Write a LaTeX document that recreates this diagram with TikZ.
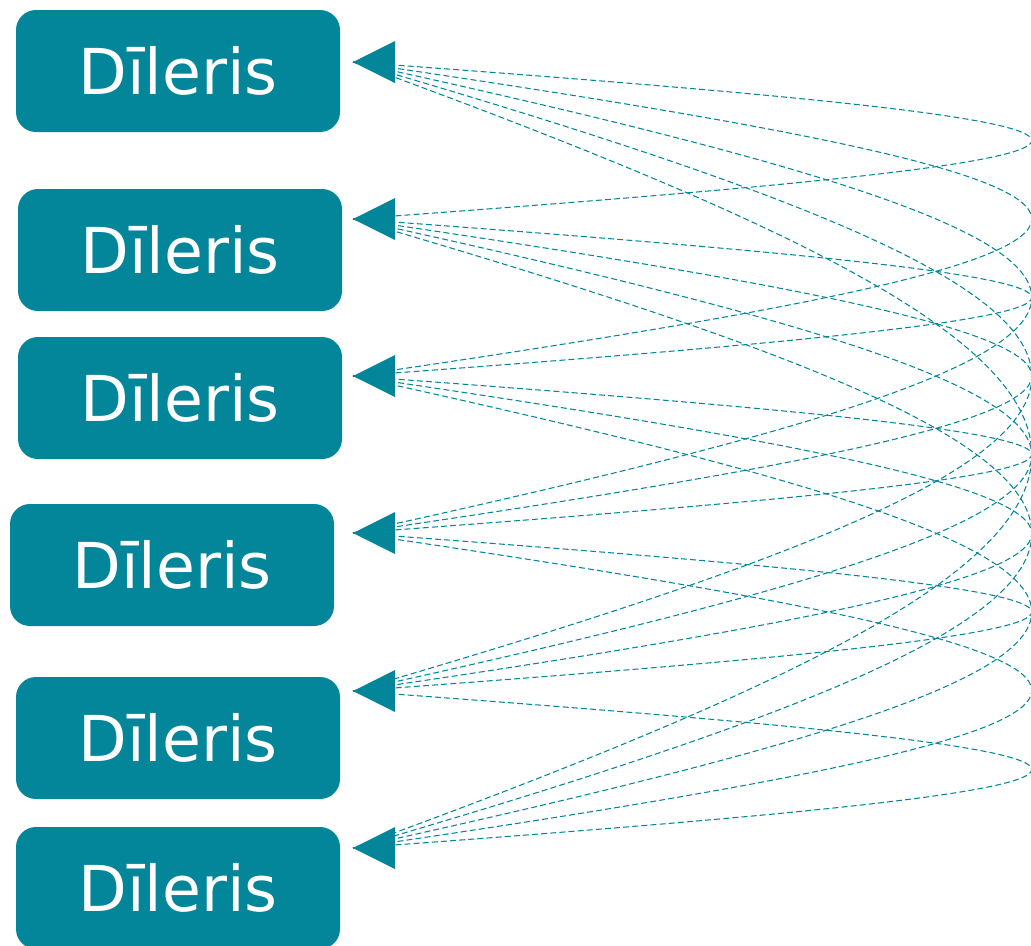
\documentclass[tikz,border=0pt]{standalone}
\usepackage{fontspec}
\setmainfont{DejaVu Sans}
\definecolor{dteal}{RGB}{3,134,153}
\begin{document}
\begin{tikzpicture}[
    dbox/.style={fill=dteal, rounded corners=0.4cm, minimum width=6.48cm,
      minimum height=2.44cm, inner sep=0pt, text=white,
      font=\fontsize{36}{43}\selectfont},
    link/.style={dteal, line width=0.6pt, dash pattern=on 3.4pt off 1.8pt}
  ]
  \useasboundingbox (0,0) rectangle (20.62,-18.9);
  \node[dbox] (d1) at (3.56,-1.42) {Dīleris};
  \node[dbox] (d2) at (3.60,-5.00) {Dīleris};
  \node[dbox] (d3) at (3.60,-7.96) {Dīleris};
  \node[dbox] (d4) at (3.44,-11.30) {Dīleris};
  \node[dbox] (d5) at (3.56,-14.76) {Dīleris};
  \node[dbox] (d6) at (3.56,-17.76) {Dīleris};
  \foreach \y [count=\i] in {-1.24,-4.38,-7.52,-10.66,-13.82,-16.96}
    \coordinate (t\i) at (7.06,\y);
  \foreach \i in {1,...,5}{
    \pgfmathtruncatemacro\k{\i+1}
    \foreach \j in {\k,...,6}{
      \pgfmathsetmacro\e{1.32*(\j-\i)}
      \draw[link] (t\i) .. controls +(18.1,-\e) and +(18.1,\e) .. (t\j);
    }
  }
  \foreach \i in {1,...,6}
    \fill[dteal] (t\i) -- ++(0.84,0.42) -- ++(0,-0.84) -- cycle;
\end{tikzpicture}
\end{document}
